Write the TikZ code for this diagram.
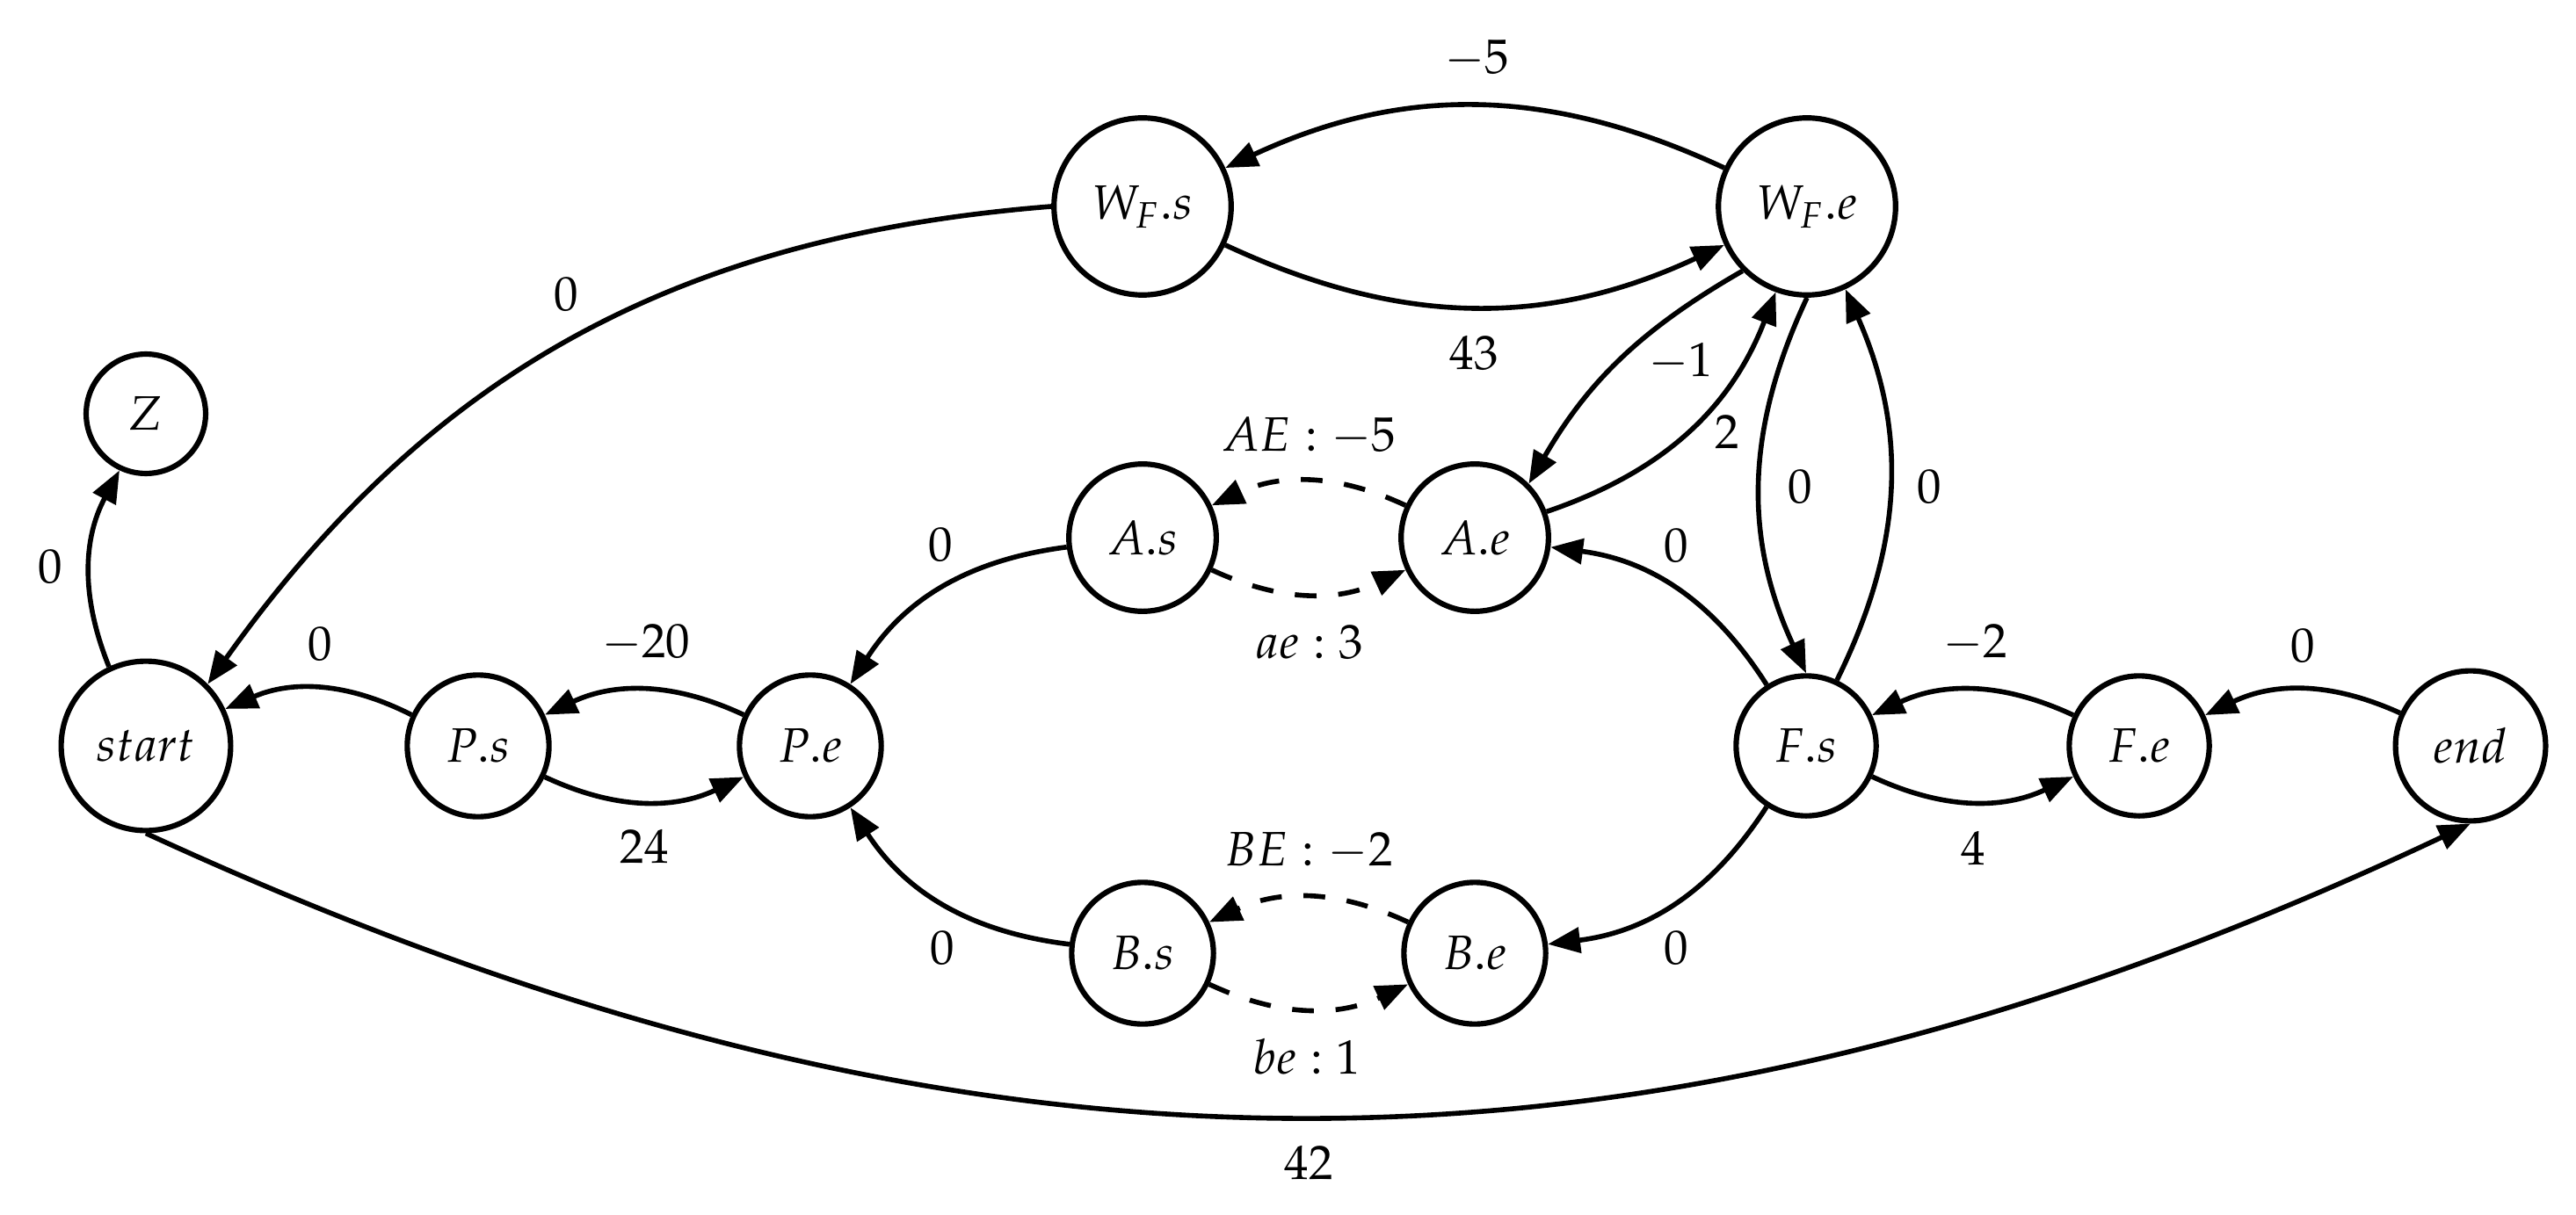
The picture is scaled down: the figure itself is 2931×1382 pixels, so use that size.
\documentclass[tikz,border=0pt]{standalone}
\usepackage{mathpazo}
\usetikzlibrary{arrows.meta}
\tikzset{
  st/.style={circle, draw, line width=1.12pt, inner sep=5.2pt},
  lbl/.style={inner sep=0pt},
  arr/.style={-{Triangle[length=6.7pt,width=5.2pt]}, line width=1.02pt},
  dsh/.style={arr, dash pattern=on 4.5pt off 4.5pt},
}
\begin{document}
\begin{tikzpicture}[x=0.181818pt, y=-0.181818pt, bend angle=25]
\useasboundingbox (0,0) rectangle (2931,1382);
% states
\node[st] (Z)      at (166,471)  {$Z$};
\node[st] (nstart) at (166,849)  {$start$};
\node[st] (Ps)     at (544,849)  {$P.s$};
\node[st] (Pe)     at (922,849)  {$P.e$};
\node[st] (As)     at (1300,612) {$A.s$};
\node[st] (Ae)     at (1678,612) {$A.e$};
\node[st] (Bs)     at (1300,1085) {$B.s$};
\node[st] (Be)     at (1678,1085) {$B.e$};
\node[st] (Fs)     at (2055,849) {$F.s$};
\node[st] (Fe)     at (2434,849) {$F.e$};
\node[st] (nend)   at (2811,849) {$end$};
\node[st] (WFs)    at (1300,235) {$W_F.s$};
\node[st] (WFe)    at (2056,235) {$W_F.e$};
% edges
\draw[arr] (nstart) to[bend left] (Z);
\draw[arr] (WFs.west) to[bend right] (nstart.north east);
\draw[arr] (WFe) to[bend right] (WFs);
\draw[arr] (WFs) to[bend right] (WFe);
\draw[arr] (WFe.south west) to[bend right=15] (Ae.north east);
\draw[arr] (Ae) to[bend right] (WFe);
\draw[arr] (WFe.south) to[bend right] (Fs.north);
\draw[arr] (Fs) to[bend right] (WFe);
\draw[arr] (Fs) to[bend right] (Ae);
\draw[arr] (Fs) to[bend left] (Be);
\draw[arr] (As) to[bend right] (Pe);
\draw[arr] (Bs) to[bend left] (Pe);
\draw[dsh] (Ae) to[bend right] (As);
\draw[dsh] (As) to[bend right] (Ae);
\draw[dsh] (Be) to[bend right] (Bs);
\draw[dsh] (Bs) to[bend right] (Be);
\draw[arr] (Pe) to[bend right] (Ps);
\draw[arr] (Ps) to[bend right] (Pe);
\draw[arr] (Ps) to[bend right] (nstart);
\draw[arr] (Fe) to[bend right] (Fs);
\draw[arr] (Fs) to[bend right] (Fe);
\draw[arr] (nend) to[bend right] (Fe);
\draw[arr] (nstart.south) to[bend right] (nend.south);
% labels
\node[lbl] (lZ)    at (57,645)   {$0$};
\node[lbl] (lWS)   at (644,335)  {$0$};
\node[lbl] (lm5)   at (1680,67)  {$-5$};
\node[lbl] (l43)   at (1677,402) {$43$};
\node[lbl] (lm1)   at (1912,412) {$-1$};
\node[lbl] (l2)    at (1965,492) {$2$};
\node[lbl] (lWF)   at (2048,554) {$0$};
\node[lbl] (lFW)   at (2195,554) {$0$};
\node[lbl] (lFA)   at (1907,621) {$0$};
\node[lbl] (lFB)   at (1907,1079) {$0$};
\node[lbl] (lAP)   at (1070,620) {$0$};
\node[lbl] (lBP)   at (1072,1079) {$0$};
\node[lbl] (lAE)   at (1489,496) {$AE : -5$};
\node[lbl] (lae)   at (1490,731) {$ae : 3$};
\node[lbl] (lBE)   at (1489,969) {$BE : -2$};
\node[lbl] (lbe)   at (1487,1203) {$be : 1$};
\node[lbl] (lm20)  at (735,732)  {$-20$};
\node[lbl] (l24)   at (733,963)  {$24$};
\node[lbl] (lPS)   at (364,733)  {$0$};
\node[lbl] (lm2)   at (2247,732) {$-2$};
\node[lbl] (l4)    at (2245,965) {$4$};
\node[lbl] (lEF)   at (2620,735) {$0$};
\node[lbl] (l42)   at (1489,1323) {$42$};
\end{tikzpicture}
\end{document}
